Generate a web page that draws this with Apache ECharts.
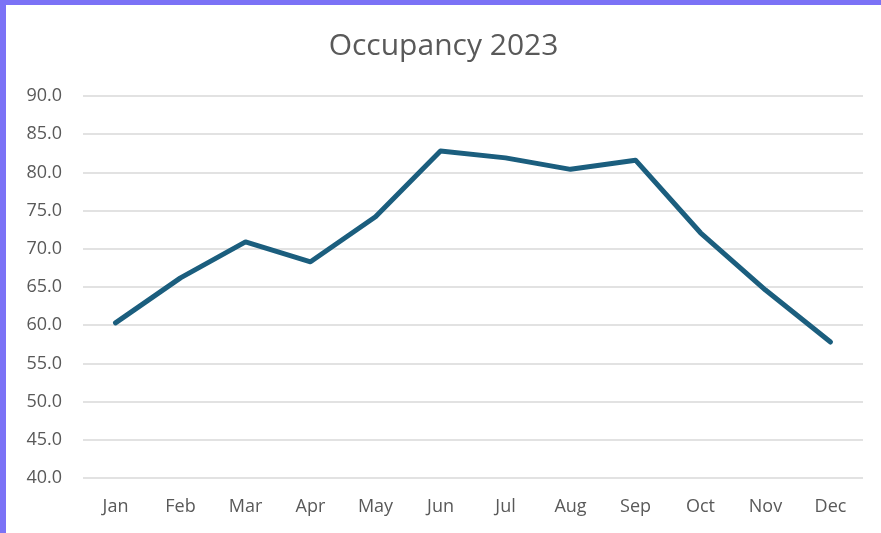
<!DOCTYPE html>
<html>
<head>
<meta charset="utf-8">
<script src="https://cdn.jsdelivr.net/npm/echarts@6/dist/echarts.min.js"></script>
<style>
  html, body { margin: 0; padding: 0; background: #7b72f6; }
  #chart { position: absolute; left: 6px; top: 5px; width: 875px; height: 528px; background: #fff; }
</style>
</head>
<body>
<div id="chart"></div>
<script>
// data
const months = ['Jan', 'Feb', 'Mar', 'Apr', 'May', 'Jun', 'Jul', 'Aug', 'Sep', 'Oct', 'Nov', 'Dec'];
const occupancy = [60.3, 66.2, 70.9, 68.3, 74.2, 82.8, 81.9, 80.4, 81.6, 72.1, 64.6, 57.8];

const chart = echarts.init(document.getElementById('chart'));

const option = {
    backgroundColor: '#fff',
    textStyle: { fontFamily: 'Open Sans' },
    title: {
        text: 'Occupancy 2023',
        left: 'center',
        top: 21,
        textStyle: { color: '#595959', fontSize: 30, fontWeight: 'normal', fontFamily: 'Open Sans' }
    },
    grid: { left: 77, right: 18, top: 91, bottom: 55 },
    xAxis: {
        type: 'category',
        data: months,
        boundaryGap: true,
        axisLine: { show: false },
        axisTick: { show: false },
        axisLabel: { color: '#595959', fontSize: 18, margin: 20 }
    },
    yAxis: {
        type: 'value',
        min: 40,
        max: 90,
        interval: 5,
        axisLabel: {
            color: '#595959',
            fontSize: 18,
            margin: 21,
            formatter: v => v.toFixed(1)
        },
        splitLine: { lineStyle: { color: '#d9d9d9', width: 1.5 } }
    },
    series: [{
        type: 'line',
        data: occupancy,
        symbol: 'none',
        lineStyle: { color: '#1b5e7e', width: 5, join: 'round', cap: 'round' }
    }]
};

chart.setOption(option);
</script>
</body>
</html>
